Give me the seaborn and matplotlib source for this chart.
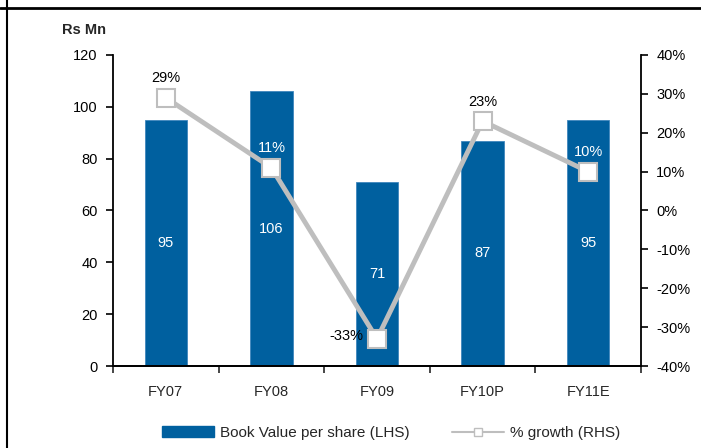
import numpy as np
import pandas as pd
import matplotlib
matplotlib.use("Agg")
import matplotlib.pyplot as plt
import seaborn as sns
from matplotlib.lines import Line2D
from matplotlib.patches import Patch
from matplotlib.ticker import FuncFormatter

# ================= DATA =================
years = ["FY07", "FY08", "FY09", "FY10P", "FY11E"]
bvps = [95, 106, 71, 87, 95]
growth = [29, 11, -33, 23, 10]

BLUE = "#00609F"
GREY = "#BEBEBE"

sns.set_style("white")
plt.rcParams['font.family'] = ['Liberation Sans', 'DejaVu Sans']

df = pd.DataFrame({"year": years, "bvps": bvps, "growth": growth})

fig = plt.figure(figsize=(7.01, 4.48), dpi=100)
ax = fig.add_axes([113 / 701, 1 - 366 / 448, (641 - 113) / 701, (366 - 55) / 448])

# ================= BARS (LHS) =================
sns.barplot(data=df, x="year", y="bvps", color=BLUE, width=0.4, saturation=1,
            edgecolor="#3F86BD", linewidth=0.6, ax=ax)
ax.set_ylim(0, 120)
ax.set_xlim(-0.5, 4.5)
ax.set_yticks(range(0, 121, 20))
ax.set_xlabel("")
ax.set_ylabel("")

for i, v in enumerate(bvps):
    ax.text(i, v / 2, f"{v}", color="white", ha="center", va="center", fontsize=10.5)

# ================= LINE (RHS) =================
ax2 = ax.twinx()
sns.lineplot(x=np.arange(len(years)), y=growth, color=GREY, linewidth=3.5,
             marker="s", markersize=13, markerfacecolor="white",
             markeredgecolor=GREY, markeredgewidth=1.5, ax=ax2)
ax2.set_ylim(-40, 40)
ax2.set_yticks(range(-40, 41, 10))
ax2.yaxis.set_major_formatter(FuncFormatter(lambda v, _: f"{v:.0f}%"))
ax2.set_xlim(-0.5, 4.5)

# percentage labels
lbl = [
    (0, 29, "29%", "black", "center", "bottom", 0, 9),
    (1, 11, "11%", "white", "center", "bottom", 0, 9),
    (2, -33, "-33%", "black", "right", "center", -10, 2),
    (3, 23, "23%", "black", "center", "bottom", 0, 9),
    (4, 10, "10%", "white", "center", "bottom", 0, 9),
]
for x, y, t, c, ha, va, dx, dy in lbl:
    ax2.annotate(t, (x, y), xytext=(dx, dy), textcoords="offset points",
                 color=c, ha=ha, va=va, fontsize=10.5)

# ================= AXES STYLE =================
for a in (ax, ax2):
    a.spines["top"].set_visible(False)
    for s in ("left", "right", "bottom"):
        a.spines[s].set_color("black")
        a.spines[s].set_linewidth(1.3)
ax.spines["right"].set_visible(False)
ax2.spines["left"].set_visible(False)

ax.tick_params(axis="y", which="major", direction="out", length=5, width=1.2,
               labelsize=10.5, pad=6, left=True, colors="black")
ax2.tick_params(axis="y", which="major", direction="out", length=5, width=1.2,
                labelsize=10.5, pad=6, right=True, colors="black")
ax.set_xticks(np.arange(-0.5, 5, 1), minor=True)
ax.tick_params(axis="x", which="minor", direction="out", length=5, width=1.2, bottom=True)
ax.tick_params(axis="x", which="major", length=0, pad=14, labelsize=10.5)
ax.grid(False)
ax2.grid(False)

fig.text(62 / 701, 1 - 30 / 448, "Rs Mn", fontsize=10.5, fontweight="bold", va="center")

# ================= LEGEND =================
handles = [
    Patch(facecolor=BLUE, edgecolor=BLUE),
    Line2D([0], [0], color=GREY, linewidth=1.5, marker="s", markersize=6,
           markerfacecolor="white", markeredgecolor=GREY),
]
fig.legend(handles, ["Book Value per share (LHS)", "% growth (RHS)"],
           loc="center", bbox_to_anchor=(0.558, 1 - 433 / 448), ncol=2,
           frameon=False, fontsize=11, handlelength=3.4, handleheight=0.7,
           columnspacing=2.8, handletextpad=0.4)

# ================= PAGE FRAME =================
fig.add_artist(Line2D([0, 1], [1 - 8 / 448, 1 - 8 / 448], color="black", linewidth=2,
                      transform=fig.transFigure))
fig.add_artist(Line2D([7 / 701, 7 / 701], [0, 1], color="black", linewidth=1.5,
                      transform=fig.transFigure))

fig.savefig("out.png", dpi=100)
